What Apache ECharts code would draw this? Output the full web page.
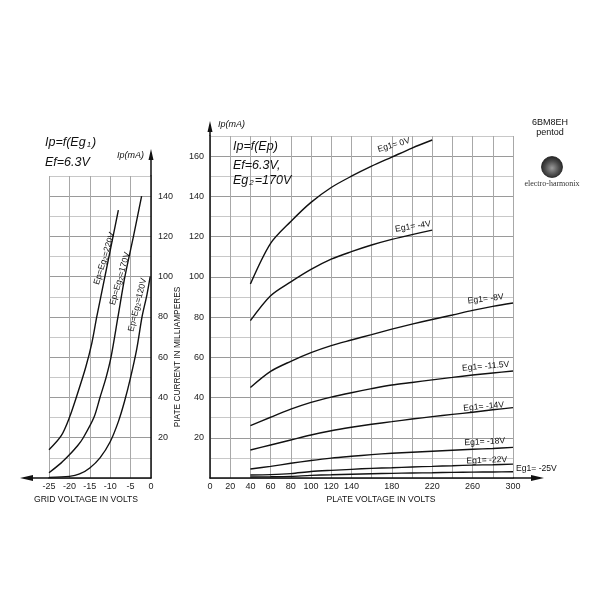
<!DOCTYPE html>
<html><head><meta charset="utf-8">
<script src="https://cdn.jsdelivr.net/npm/echarts@6/dist/echarts.min.js"></script>
<style>html,body{margin:0;padding:0;background:#fff}#c{width:600px;height:600px}</style>
</head><body><div id="c"></div>
<script>
// ---------- DATA ----------
// Left chart: Ip = f(Eg1) for three Ep=Eg2 values
const leftXTicks = [-25, -20, -15, -10, -5, 0];
const leftYTickLabels = [20, 40, 60, 80, 100, 120, 140];
const eg_220 = [-25, -22, -20, -18, -16, -14.5, -13.3, -11.3, -9.3, -8];
const ip_220 = [14, 21, 30, 42, 55, 67, 80, 100, 120, 133];
const eg_170 = [-25, -22, -20, -18, -16.6, -14, -12.5, -11, -9.8, -8.1, -6.4, -4.3, -2.3];
const ip_170 = [2.6, 7.5, 11.5, 16, 20, 30, 40, 50, 60, 80, 100, 120, 140];
const eg_120 = [-25, -20, -17.5, -15, -12.5, -10, -8, -6.5, -5, -3.5, -2.2, -1, -0.2];
const ip_120 = [0.3, 0.8, 2, 5, 10, 18, 28, 38, 50, 64, 80, 91, 100];

// Right chart: Ip = f(Ep) for several Eg1 values
const rightXTickLabels = [0, 20, 40, 60, 80, 100, 120, 140, 180, 220, 260, 300];
const rightYTickLabels = [20, 40, 60, 80, 100, 120, 140, 160];
const plateV = [40, 60, 80, 100, 120, 140, 160, 180, 200, 220, 240, 260, 280, 300];
const ip_eg0 = [96.4, 116.6, 127.5, 137, 144.4, 150, 155, 159.5, 164, 168];
const ip_eg4 = [78.2, 90.6, 97.5, 103.7, 108.8, 112.5, 115.8, 118.6, 121, 123.2];
const ip_eg8 = [45, 53, 58, 62.3, 65.8, 68.6, 71.3, 74, 76.5, 78.8, 81, 83.3, 85.3, 87];
const ip_eg11_5 = [26, 30.2, 34.2, 37.6, 40.2, 42.4, 44.4, 46.2, 47.5, 48.8, 50, 51.2, 52.2, 53.2];
const ip_eg14 = [13.9, 16.4, 18.9, 21.4, 23.5, 25.2, 26.7, 28, 29.3, 30.5, 31.6, 32.7, 33.9, 35];
const ip_eg18 = [4.5, 5.8, 7.3, 8.7, 9.9, 10.8, 11.6, 12.3, 12.8, 13.3, 13.8, 14.3, 14.7, 15.2];
const ip_eg22 = [1.5, 1.7, 2.2, 3.2, 3.8, 4.3, 4.8, 5.1, 5.5, 5.8, 6.1, 6.4, 6.6, 6.9];
const ip_eg25 = [0.5, 0.6, 0.8, 1.3, 1.6, 1.9, 2.1, 2.3, 2.5, 2.6, 2.8, 2.9, 3.0, 3.1];
const eg1Names = ['Eg1= 0V', 'Eg1= -4V', 'Eg1= -8V', 'Eg1= -11.5V', 'Eg1= -14V', 'Eg1= -18V', 'Eg1= -22V', 'Eg1= -25V'];

// ---------- CHART ----------
const FONT = "'Liberation Sans',Arial,sans-serif";
const chart = echarts.init(document.getElementById('c'), null, {renderer: 'canvas'});
const zip = (xs, ys) => ys.map((y, i) => [xs[i], y]);

const lineStyle = {color: '#111', width: 1.4};
function curve(xi, yi, data, labelPt, labelText, rot, rich) {
  const s = {
    type: 'line', xAxisIndex: xi, yAxisIndex: yi, data: data,
    showSymbol: false, smooth: 0.3, lineStyle: lineStyle, silent: true, animation: false
  };
  if (labelPt) {
    s.markPoint = {
      silent: true, animation: false, symbol: 'circle', symbolSize: 0,
      data: [{coord: labelPt, value: 0,
        label: {show: true, position: 'inside', rotate: rot, formatter: labelText,
          color: '#111', fontSize: 8.6, fontFamily: FONT, rich: rich || {}}}]
    };
  }
  return s;
}
const subRich = {
  a: {fontSize: 8.6, fontFamily: FONT, color: '#111'},
  s: {fontSize: 6.2, fontFamily: FONT, color: '#111', padding: [3, 0, 0, 0]}
};

const splitY = {show: true, lineStyle: {color: ['#9a9a9a', '#c8c8c8'], width: 1}};
const splitX = {show: true, lineStyle: {color: '#a8a8a8', width: 1}};
const labelStyle = {color: '#222', fontSize: 9, fontFamily: FONT};

const option = {
  animation: false,
  grid: [
    {left: 49, right: 449, top: 176, bottom: 122},
    {left: 210, right: 87, top: 136, bottom: 122}
  ],
  xAxis: [
    {gridIndex: 0, type: 'value', min: -25, max: 0, interval: 5,
      axisLine: {show: true, onZero: false, lineStyle: {color: '#111', width: 1.5}},
      axisTick: {show: false},
      axisLabel: Object.assign({margin: 4, formatter: v => leftXTicks.includes(v) ? String(v) : ''}, labelStyle),
      splitLine: splitX},
    {gridIndex: 1, type: 'value', min: 0, max: 300, interval: 20,
      axisLine: {show: true, onZero: false, lineStyle: {color: '#111', width: 1.5}},
      axisTick: {show: false},
      axisLabel: Object.assign({margin: 4, formatter: v => rightXTickLabels.includes(v) ? String(v) : ''}, labelStyle),
      splitLine: splitX}
  ],
  yAxis: [
    {gridIndex: 0, type: 'value', position: 'right', min: 0, max: 150, interval: 10,
      axisLine: {show: true, onZero: false, lineStyle: {color: '#111', width: 1.5}},
      axisTick: {show: false},
      axisLabel: Object.assign({margin: 7, formatter: v => leftYTickLabels.includes(v) ? String(v) : ''}, labelStyle),
      splitLine: splitY},
    {gridIndex: 1, type: 'value', min: 0, max: 170, interval: 10,
      axisLine: {show: true, onZero: false, lineStyle: {color: '#111', width: 1.5}},
      axisTick: {show: false},
      axisLabel: Object.assign({margin: 6, formatter: v => rightYTickLabels.includes(v) ? String(v) : ''}, labelStyle),
      splitLine: splitY}
  ],
  series: [
    curve(0, 0, zip(eg_220, ip_220), [-11.4, 109], '{a|Ep=Eg}{s|2}{a|=220V}', 73, subRich),
    curve(0, 0, zip(eg_170, ip_170), [-7.6, 99], '{a|Ep=Eg}{s|2}{a|=170V}', 74, subRich),
    curve(0, 0, zip(eg_120, ip_120), [-3.3, 86], '{a|Ep=Eg}{s|2}{a|=120V}', 76, subRich),
    curve(1, 1, zip(plateV, ip_eg0), [182, 165.5], eg1Names[0], 16),
    curve(1, 1, zip(plateV, ip_eg4), [201, 125], eg1Names[1], 9),
    curve(1, 1, zip(plateV, ip_eg8), [273, 89], eg1Names[2], 7),
    curve(1, 1, zip(plateV, ip_eg11_5), [273, 55.5], eg1Names[3], 5),
    curve(1, 1, zip(plateV, ip_eg14), [271, 35.5], eg1Names[4], 5),
    curve(1, 1, zip(plateV, ip_eg18), [272, 18], eg1Names[5], 3),
    curve(1, 1, zip(plateV, ip_eg22), [274, 8.8], eg1Names[6], 2),
    curve(1, 1, zip(plateV, ip_eg25), null)
  ]
};
chart.setOption(option);

// ---------- decorations: axis arrows, titles, logo ----------
const pL0 = chart.convertToPixel({gridIndex: 0}, [-25, 0]);
const pLtop = chart.convertToPixel({gridIndex: 0}, [0, 150]);
const pR0 = chart.convertToPixel({gridIndex: 1}, [300, 0]);
const pRtop = chart.convertToPixel({gridIndex: 1}, [0, 170]);
const p25 = chart.convertToPixel({gridIndex: 1}, [plateV[plateV.length - 1], ip_eg25[ip_eg25.length - 1]]);
const blk = {stroke: '#111', lineWidth: 1.5};
function arrow(tip, dir) { // dir: 'left','right','up'
  const [x, y] = tip;
  if (dir === 'left') return [[x, y], [x + 13, y - 3], [x + 13, y + 3]];
  if (dir === 'right') return [[x, y], [x - 13, y - 3], [x - 13, y + 3]];
  return [[x, y], [x - 2.5, y + 11], [x + 2.5, y + 11]];
}
const g = [];
g.push({type: 'line', shape: {x1: pL0[0], y1: pL0[1], x2: pL0[0] - 20, y2: pL0[1]}, style: blk, silent: true});
g.push({type: 'polygon', shape: {points: arrow([pL0[0] - 29, pL0[1]], 'left')}, style: {fill: '#111'}, silent: true});
g.push({type: 'line', shape: {x1: pLtop[0], y1: pLtop[1], x2: pLtop[0], y2: pLtop[1] - 16}, style: blk, silent: true});
g.push({type: 'polygon', shape: {points: arrow([pLtop[0], pLtop[1] - 27], 'up')}, style: {fill: '#111'}, silent: true});
g.push({type: 'line', shape: {x1: pR0[0], y1: pR0[1], x2: pR0[0] + 22, y2: pR0[1]}, style: blk, silent: true});
g.push({type: 'polygon', shape: {points: arrow([pR0[0] + 31, pR0[1]], 'right')}, style: {fill: '#111'}, silent: true});
g.push({type: 'line', shape: {x1: pRtop[0], y1: pRtop[1], x2: pRtop[0], y2: pRtop[1] - 6}, style: blk, silent: true});
g.push({type: 'polygon', shape: {points: arrow([pRtop[0], pRtop[1] - 15], 'up')}, style: {fill: '#111'}, silent: true});

const titleRich = {
  a: {fontSize: 12.5, fontStyle: 'italic', fontFamily: FONT, color: '#111', fontWeight: 'normal'},
  s: {fontSize: 8, fontStyle: 'italic', fontFamily: FONT, color: '#111', padding: [4, 1, 0, 1]}
};
function txt(x, y, text, extra) {
  return {type: 'text', x: x, y: y, silent: true,
    style: Object.assign({text: text, fill: '#111', fontFamily: FONT, fontSize: 10, rich: titleRich}, extra || {})};
}
// Eg1 = -25V label, just right of the curve end (outside the plot area)
g.push(txt(p25[0] + 3, p25[1] - 3, eg1Names[7], {verticalAlign: 'middle', fontSize: 8.6}));
g.push(txt(45, 136, '{a|Ip=f(Eg}{s|1}{a|)}'));
g.push(txt(45, 156, '{a|Ef=6.3V}'));
g.push(txt(117, 151, 'Ip(mA)', {fontSize: 9, fontStyle: 'italic'}));
g.push(txt(218, 120, 'Ip(mA)', {fontSize: 9, fontStyle: 'italic'}));
g.push(txt(233, 140, '{a|Ip=f(Ep)}'));
g.push(txt(233, 159, '{a|Ef=6.3V,}'));
g.push(txt(233, 174, '{a|Eg}{s|2}{a|=170V}'));
// axis names
g.push(txt(86, 500, 'GRID VOLTAGE IN VOLTS', {align: 'center', verticalAlign: 'middle', fontSize: 8.6}));
g.push(txt(381, 500, 'PLATE VOLTAGE IN VOLTS', {align: 'center', verticalAlign: 'middle', fontSize: 8.6}));
g.push({type: 'text', x: 178, y: 357, rotation: Math.PI / 2, silent: true,
  style: {text: 'PIATE CURRENT IN MILLIAMPERES', align: 'center', verticalAlign: 'middle',
    fontSize: 8.3, fontFamily: FONT, fill: '#111'}});
// tube name + logo
g.push(txt(550, 123, '6BM8EH', {align: 'center', verticalAlign: 'middle', fontSize: 9}));
g.push(txt(550, 133, 'pentod', {align: 'center', verticalAlign: 'middle', fontSize: 9}));
g.push({type: 'circle', shape: {cx: 552, cy: 167, r: 10.5}, silent: true,
  style: {fill: new echarts.graphic.RadialGradient(0.5, 0.55, 0.6, [
    {offset: 0, color: '#9a9a9a'}, {offset: 0.55, color: '#4a4a4a'}, {offset: 1, color: '#1a1a1a'}]),
    stroke: '#222', lineWidth: 0.8}});
g.push(txt(552, 184, 'electro-harmonix', {align: 'center', verticalAlign: 'middle', fontSize: 8,
  fontFamily: "'Liberation Serif','DejaVu Serif',serif", fill: '#333'}));

chart.setOption({graphic: g});
</script>
</body></html>
